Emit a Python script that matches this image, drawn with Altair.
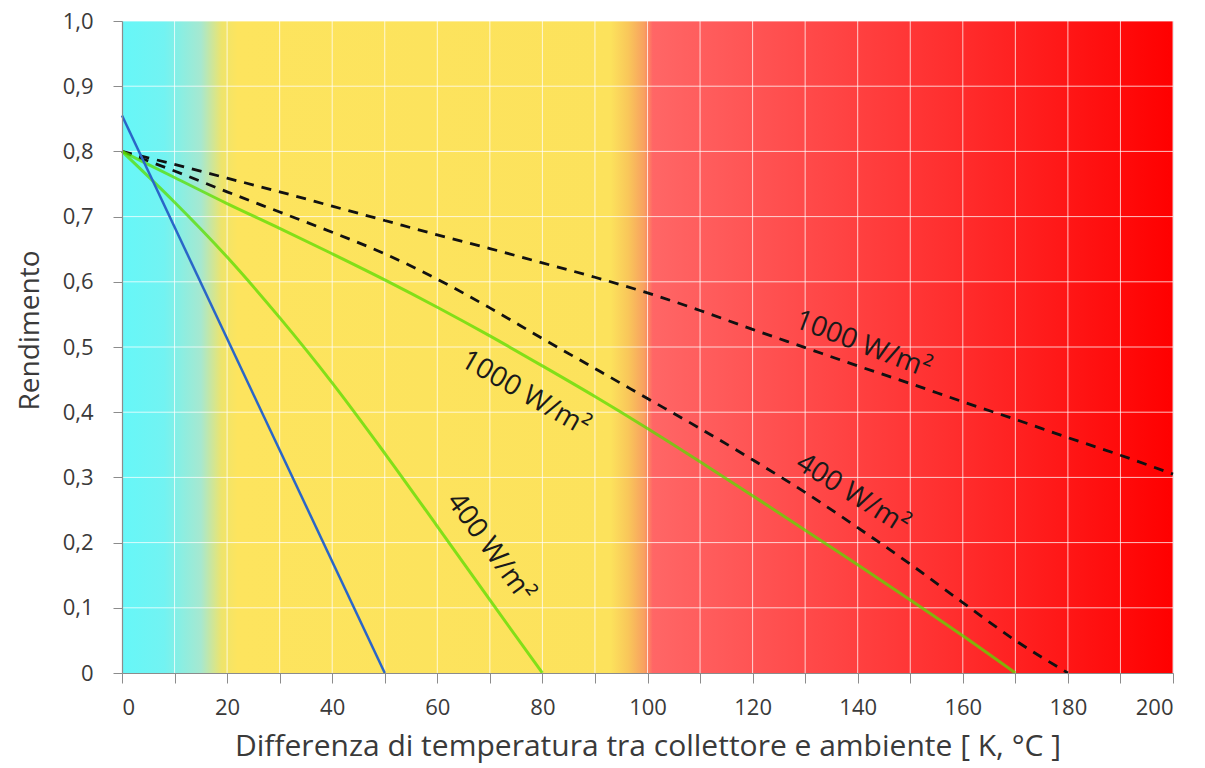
import altair as alt
import pandas as pd

# ---- data ----
blue_x = [0, 50]
blue_y = [0.855, 0.0]

green1000_x = [0, 10, 20, 30, 40, 50, 60, 70, 80, 90, 100, 110, 120, 130, 140, 150, 160, 170]
green1000_y = [0.80, 0.76, 0.72, 0.682, 0.643, 0.603, 0.561, 0.517, 0.471, 0.424, 0.375,
               0.324, 0.272, 0.219, 0.166, 0.112, 0.057, 0.0]

green400_x = [0, 10, 20, 30, 40, 50, 60, 70, 80]
green400_y = [0.80, 0.722, 0.638, 0.545, 0.445, 0.337, 0.225, 0.112, 0.0]

dash1000_x = [0, 10, 20, 30, 40, 50, 60, 70, 80, 90, 100, 110, 120, 130, 140, 150, 160, 170, 180, 190, 200]
dash1000_y = [0.80, 0.78, 0.759, 0.738, 0.716, 0.694, 0.672, 0.651, 0.629, 0.607, 0.583,
              0.556, 0.527, 0.499, 0.471, 0.444, 0.416, 0.389, 0.361, 0.334, 0.305]

dash400_x = [0, 10, 20, 30, 40, 50, 60, 70, 80, 90, 100, 110, 120, 130, 140, 150, 160, 170, 180]
dash400_y = [0.80, 0.77, 0.738, 0.707, 0.676, 0.643, 0.604, 0.56, 0.513, 0.467, 0.421,
             0.375, 0.327, 0.277, 0.223, 0.167, 0.108, 0.05, 0.0]

label_text = ["1000 W/m²", "400 W/m²", "1000 W/m²", "400 W/m²"]
label_x = [76.7, 70.0, 141.0, 139.0]
label_y = [0.428, 0.192, 0.503, 0.274]
label_angle = [30, 54, 21, 32]

grid_x = [0, 10, 20, 30, 40, 50, 60, 70, 80, 90, 100, 110, 120, 130, 140, 150, 160, 170, 180, 190, 200]
grid_y = [0.0, 0.1, 0.2, 0.3, 0.4, 0.5, 0.6, 0.7, 0.8, 0.9, 1.0]

x_ticks = grid_x
y_ticks = grid_y

FONT = "Open Sans"

xs = alt.Scale(domain=[0, 200], nice=False, zero=False)
ys = alt.Scale(domain=[0, 1], nice=False)

x_axis = alt.Axis(
    values=x_ticks, grid=False, zindex=1,
    labelExpr="datum.value % 20 == 0 ? datum.label : ''",
    domainColor="#8c8c8c", tickColor="#8c8c8c", tickSize=10, domainWidth=1.2,
    labelFont=FONT, labelFontSize=22, labelColor="#3a3a3a", labelPadding=14,
    title="Differenza di temperatura tra collettore e ambiente [ K, °C ]",
    titleFont=FONT, titleFontSize=30, titleFontWeight="normal", titleColor="#3a3a3a",
    titleY=73, titleBaseline="middle",
)
y_axis = alt.Axis(
    values=y_ticks, grid=False, zindex=1,
    labelExpr="datum.value == 0 ? '0' : replace(format(datum.value, '.1f'), '.', ',')",
    domainColor="#8c8c8c", tickColor="#8c8c8c", tickSize=9, domainWidth=1.2,
    labelFont=FONT, labelFontSize=22, labelColor="#3a3a3a", labelPadding=20,
    title="Rendimento", titleFont=FONT, titleFontSize=28, titleFontWeight="normal",
    titleColor="#3a3a3a", titleX=-92, titleY=309, titleAlign="center", titleBaseline="middle",
)

# background gradient
bg = pd.DataFrame({"x": [0], "x2": [200], "y": [0], "y2": [1]})
grad = alt.LinearGradient(
    gradient="linear", x1=0, y1=0, x2=1, y2=0,
    stops=[
        alt.GradientStop(offset=0.0, color="#66f7f8"),
        alt.GradientStop(offset=0.04, color="#72f3f2"),
        alt.GradientStop(offset=0.075, color="#a6e8d0"),
        alt.GradientStop(offset=0.095, color="#eee46c"),
        alt.GradientStop(offset=0.11, color="#fde45e"),
        alt.GradientStop(offset=0.465, color="#fce25c"),
        alt.GradientStop(offset=0.482, color="#f9c65a"),
        alt.GradientStop(offset=0.497, color="#f8a060"),
        alt.GradientStop(offset=0.505, color="#ff6666"),
        alt.GradientStop(offset=0.6, color="#ff5454"),
        alt.GradientStop(offset=0.8, color="#ff2c2c"),
        alt.GradientStop(offset=1.0, color="#ff0000"),
    ],
)
bg_layer = alt.Chart(bg).mark_rect(color=grad).encode(
    x=alt.X("x:Q", scale=xs, axis=x_axis), x2="x2:Q",
    y=alt.Y("y:Q", scale=ys, axis=y_axis), y2="y2:Q",
)

gx = alt.Chart(pd.DataFrame({"g": grid_x[1:]})).mark_rule(color="white", strokeWidth=1, opacity=0.75).encode(
    x=alt.X("g:Q", scale=xs))
gy = alt.Chart(pd.DataFrame({"g": grid_y[1:]})).mark_rule(color="white", strokeWidth=1, opacity=0.75).encode(
    y=alt.Y("g:Q", scale=ys))


def line_layer(xv, yv, **kw):
    df = pd.DataFrame({"x": xv, "y": yv})
    return alt.Chart(df).mark_line(interpolate="monotone", **kw).encode(
        x=alt.X("x:Q", scale=xs), y=alt.Y("y:Q", scale=ys))


d1000 = line_layer(dash1000_x, dash1000_y, color="#111111", strokeWidth=2.8, strokeDash=[10, 8])
d400 = line_layer(dash400_x, dash400_y, color="#111111", strokeWidth=2.8, strokeDash=[10, 8])
g1000 = line_layer(green1000_x, green1000_y, color="#5add00", strokeWidth=3, opacity=0.75)
g400 = line_layer(green400_x, green400_y, color="#5add00", strokeWidth=3, opacity=0.75)
blue = line_layer(blue_x, blue_y, color="#2a66c8", strokeWidth=2.5)

labels = alt.Chart(pd.DataFrame({"x": label_x, "y": label_y, "t": label_text, "a": label_angle})).mark_text(
    font=FONT, fontSize=28, color="#1a1a1a", align="center", baseline="middle"
).encode(
    x=alt.X("x:Q", scale=xs), y=alt.Y("y:Q", scale=ys), text="t:N",
    angle=alt.Angle("a:Q", scale=None),
)

chart = alt.layer(bg_layer, gx, gy, d1000, d400, g1000, g400, blue, labels).properties(
    width=1051, height=652,
    autosize=alt.AutoSizeParams(type="none"),
    padding={"left": 114, "top": 13, "right": 20, "bottom": 92},
).configure_view(stroke=None).configure(background="white")

chart.save("out.html", embed_options={"renderer": "svg", "actions": False})
